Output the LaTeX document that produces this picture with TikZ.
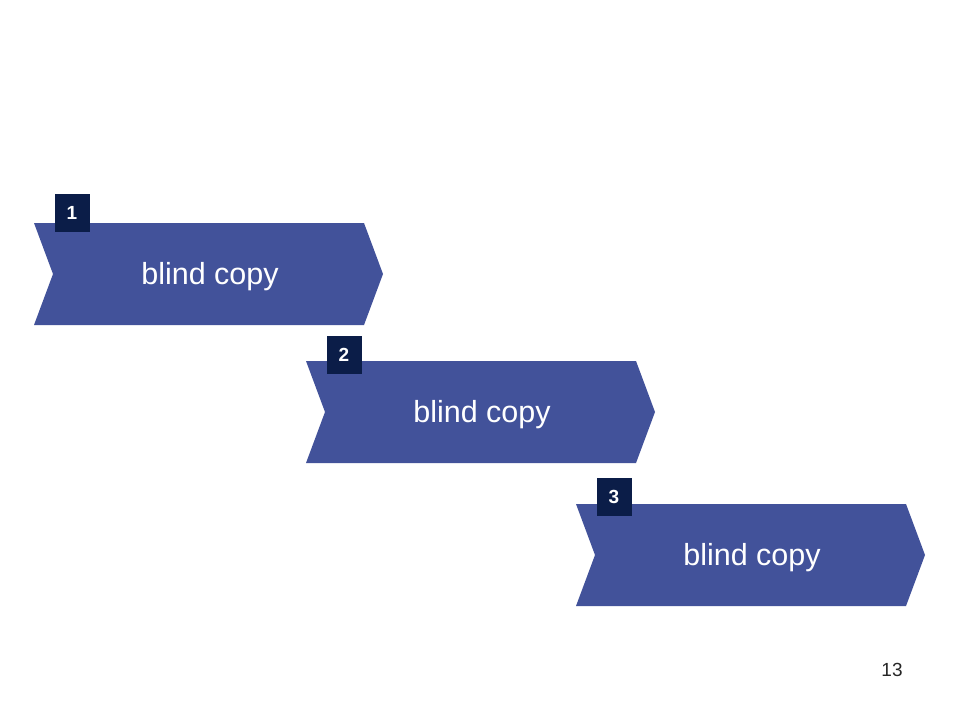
\documentclass[tikz,border=0pt]{standalone}
\usepackage{fontspec}
\setmainfont{Liberation Sans}
\definecolor{chevblue}{HTML}{42529A}
\definecolor{badgenavy}{HTML}{0B1D48}

\begin{document}
\begin{tikzpicture}[x=1pt,y=-1pt,
    chevron/.style={fill=chevblue},
    steplabel/.style={text=white,font=\fontsize{30.5}{36}\selectfont},
    badge/.style={fill=badgenavy,text=white,inner sep=0pt,minimum width=35pt,
      minimum height=38pt,font=\bfseries\fontsize{19}{22}\selectfont}]
	\useasboundingbox[fill=white] (0,0) rectangle (960,720);
	\foreach \n/\x/\y/\b in {1/34/223/213, 2/306/361/355, 3/576/504/497} {
		\fill[chevron] (\x,\y) -- ++(330,0) -- ++(19,51) -- ++(-19,51) -- ++(-330,0) -- ++(19,-51) -- cycle;
		\node[steplabel] (label\n) at (\x+176,\y+54) {blind copy};
		\node[badge] (badge\n) at (\x+38,\b) {\n};
	}
	\node[text=black!85,font=\fontsize{19}{22}\selectfont] (pagenum) at (892,670) {13};
\end{tikzpicture}
\end{document}
